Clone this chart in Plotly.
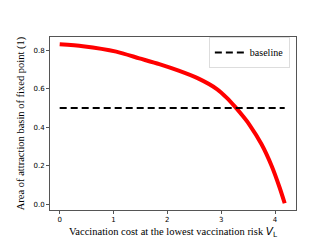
import plotly.graph_objects as go

cost = [0.0, 0.43, 1.05, 1.48, 1.85, 2.21, 2.58, 2.92, 3.105, 3.26, 3.41, 3.52, 3.75, 3.94, 4.09, 4.18]
area = [0.830, 0.820, 0.792, 0.757, 0.727, 0.693, 0.652, 0.598, 0.552, 0.505, 0.455, 0.415, 0.311, 0.197, 0.083, 0.005]
base_x = [0.0, 4.18]
base_y = [0.5, 0.5]

fig = go.Figure()
fig.add_trace(go.Scatter(x=cost, y=area, mode="lines",
                         line=dict(color="red", width=4, shape="spline", smoothing=0.7),
                         showlegend=False))
fig.add_trace(go.Scatter(x=base_x, y=base_y, mode="lines", name="baseline",
                         line=dict(color="black", width=2, dash="7px,4px")))

axis_common = dict(showline=True, linecolor="#555", linewidth=1, mirror=True, showgrid=False,
                   zeroline=False, ticks="outside", ticklen=3, tickcolor="#555",
                   tickfont=dict(family="DejaVu Sans", size=7, color="black"))
fig.update_layout(
    width=320, height=240,
    margin=dict(l=40, r=32, t=29, b=27),
    plot_bgcolor="white", paper_bgcolor="white",
    xaxis=dict(range=[-0.18, 4.39], tickvals=[0, 1, 2, 3, 4],
               title=dict(text='Vaccination cost at the lowest vaccination risk <span style="font-family:DejaVu Sans"><i>V</i><sub>L</sub></span>',
                          font=dict(family="Liberation Serif", size=10.5, color="black"), standoff=4),
               **axis_common),
    yaxis=dict(range=[-0.03, 0.868], tickvals=[0, 0.2, 0.4, 0.6, 0.8], tickformat=".1f",
               title=dict(text="Area of attraction basin of fixed point (1)",
                          font=dict(family="Liberation Serif", size=10.5, color="black"), standoff=6),
               **axis_common),
    legend=dict(x=0.975, y=1.0, xanchor="right", yanchor="top", bgcolor="white",
                bordercolor="#ddd", borderwidth=1, itemwidth=30, tracegroupgap=0,
                font=dict(family="Liberation Serif", size=10, color="black")),
)
fig.write_html("out.html")
